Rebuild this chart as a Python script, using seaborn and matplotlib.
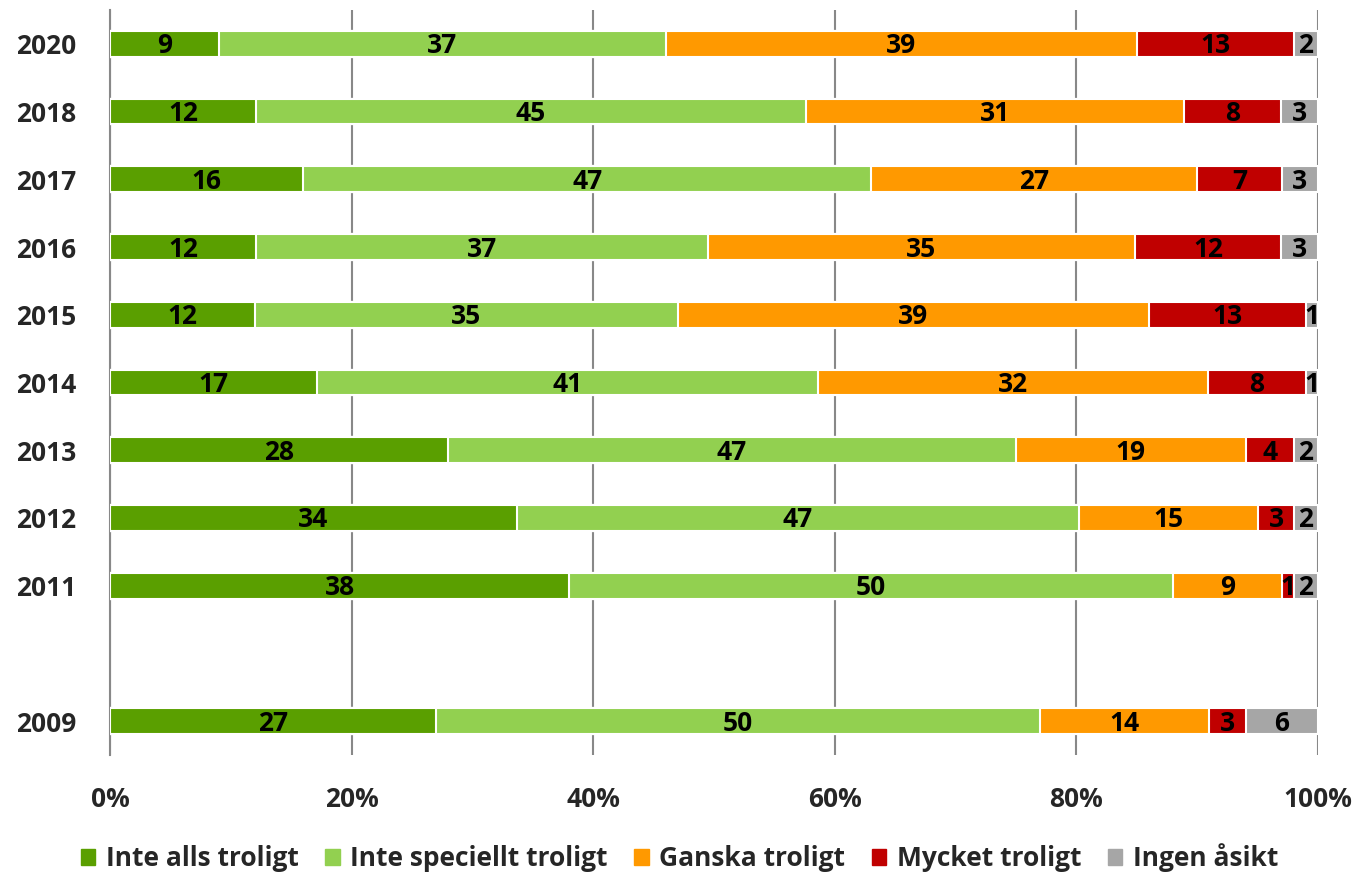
import numpy as np
import pandas as pd
import matplotlib
matplotlib.use('Agg')
import matplotlib.pyplot as plt
import seaborn as sns

#data
years = ['2020', '2018', '2017', '2016', '2015', '2014', '2013', '2012', '2011', '2010', '2009']
inte_alls = [9, 12, 16, 12, 12, 17, 28, 34, 38, np.nan, 27]
inte_speciellt = [37, 45, 47, 37, 35, 41, 47, 47, 50, np.nan, 50]
ganska = [39, 31, 27, 35, 39, 32, 19, 15, 9, np.nan, 14]
mycket = [13, 8, 7, 12, 13, 8, 4, 3, 1, np.nan, 3]
ingen = [2, 3, 3, 3, 1, 1, 2, 2, 2, np.nan, 6]
series_names = ['Inte alls troligt', 'Inte speciellt troligt', 'Ganska troligt', 'Mycket troligt', 'Ingen åsikt']
colors = ['#5A9F00', '#92D050', '#FF9900', '#C00000', '#A6A6A6']
ytick_labels = ['2020', '2018', '2017', '2016', '2015', '2014', '2013', '2012', '2011', '', '2009']
xtick_labels = ['0%', '20%', '40%', '60%', '80%', '100%']

sns.set_style('white')
plt.rcParams['font.family'] = ['Open Sans', 'DejaVu Sans']
plt.rcParams['font.weight'] = 'bold'

df = pd.DataFrame({'year': years})
for name, vals in zip(series_names, [inte_alls, inte_speciellt, ganska, mycket, ingen]):
    df[name] = vals
tot = df[series_names].sum(axis=1)
pct = df[series_names].div(tot.replace(0, np.nan), axis=0) * 100
cum = pct.cumsum(axis=1)

fig = plt.figure(figsize=(13.59, 8.74), dpi=100)
ax = fig.add_axes([110/1359, 1-755/874, 1208/1359, 745/874])

# stacked: draw cumulative totals, biggest first
for i in range(len(series_names) - 1, -1, -1):
    tmp = pd.DataFrame({'year': years, 'val': cum[series_names[i]]})
    sns.barplot(data=tmp, x='val', y='year', order=years, color=colors[i],
                width=0.38, edgecolor='white', linewidth=1.5, saturation=1,
                ax=ax, zorder=3, errorbar=None)

# labels centred in each segment
for r in range(len(years)):
    for i, name in enumerate(series_names):
        v = df[name].iloc[r]
        if pd.isna(v):
            continue
        end = cum[name].iloc[r]
        start = end - pct[name].iloc[r]
        ax.text((start + end) / 2, r + 0.03, '%d' % v, ha='center', va='center',
                fontsize=19, fontweight='bold', color='black', zorder=5)

ax.set_xlim(0, 100)
ax.set_ylim(10.5, -0.5)
ax.set_xticks(np.arange(0, 101, 20))
ax.set_xticklabels(xtick_labels, fontsize=19, fontweight='bold')
ax.set_yticks(np.arange(len(years)))
ax.set_yticklabels(ytick_labels, fontsize=19, fontweight='bold')
ax.set_yticks(np.arange(-0.5, len(years)), minor=True)
ax.tick_params(axis='y', which='major', length=0, pad=24)
ax.tick_params(axis='y', which='minor', length=8, width=1.5, color='#888888', direction='out')
ax.tick_params(axis='x', length=8, width=1.5, color='#888888', direction='out', pad=14)
ax.set_xlabel('')
ax.set_ylabel('')
ax.grid(axis='x', color='#888888', linewidth=1.5, zorder=0)
ax.set_axisbelow(True)
for s in ['top', 'right', 'bottom']:
    ax.spines[s].set_visible(False)
ax.spines['left'].set_color('#888888')
ax.spines['left'].set_linewidth(1.5)

handles = [plt.Rectangle((0, 0), 1, 1, color=c) for c in colors]
fig.legend(handles, series_names, loc='lower center', bbox_to_anchor=(0.5, -0.025), ncol=5,
           frameon=False, prop={'size': 19, 'weight': 'bold'}, handlelength=0.55,
           handleheight=0.55, handletextpad=0.4, columnspacing=1.0)

fig.savefig('out.png', dpi=100)
